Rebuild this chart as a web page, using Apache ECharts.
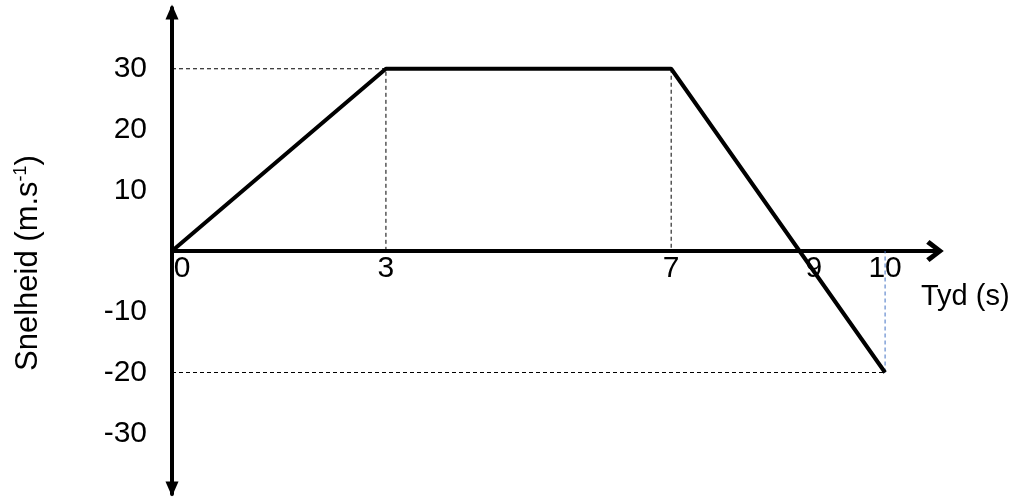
<html lang="af">
<head>
<meta charset="UTF-8">
<title>Snelheid-tyd grafiek</title>
<script src="https://cdn.jsdelivr.net/npm/echarts@6/dist/echarts.min.js"></script>
<style>
html, body { margin: 0; padding: 0; background: #fff; }
</style>
</head>
<body>
<div id="main" style="width:1021px;height:497px;"></div>
<script type="text/javascript">
// data
var timeVals = [0, 3, 7, 10];
var speedVals = [0, 30, 30, -20];
var xTickLabels = [0, 3, 7, 9, 10];
var yTickLabels = [30, 20, 10, -10, -20, -30];

var FONT = 'Liberation Sans, Arial, sans-serif';

var motion = timeVals.map(function (t, i) { return [t, speedVals[i]]; });

// dashed guides from the corner points to the axes
function guide(pts, color) {
    return {
        type: 'line',
        data: pts,
        symbol: 'none',
        silent: true,
        z: 1,
        lineStyle: { color: color, width: 1, type: [4, 3] }
    };
}
var g1 = guide([[0, speedVals[1]], [timeVals[1], speedVals[1]], [timeVals[1], 0]], '#000');
var g2 = guide([[timeVals[2], speedVals[2]], [timeVals[2], 0]], '#000');
var g3 = guide([[0, speedVals[3]], [timeVals[3], speedVals[3]]], '#000');
var g4 = guide([[timeVals[3], speedVals[3]], [timeVals[3], 0]], '#4472c4');

// time tick labels sit just under the zero line
var xLabelSeries = {
    type: 'scatter',
    silent: true,
    symbolSize: 0,
    z: 5,
    itemStyle: { color: '#000', opacity: 1 },
    data: xTickLabels.map(function (v) { return [v, 0]; }),
    label: {
        show: true,
        position: 'bottom',
        distance: 3,
        color: '#000',
        opacity: 1,
        textBorderWidth: 0,
        fontFamily: FONT,
        fontSize: 30,
        formatter: function (p) {
            return p.value[0] === 0 ? '{z|0}' : String(p.value[0]);
        },
        rich: { z: { fontFamily: FONT, fontSize: 30, color: '#000', padding: [0, 0, 0, 20] } }
    }
};

var chart = echarts.init(document.getElementById('main'));
var option = {
    animation: false,
    grid: { left: 172, top: 8, width: 763, height: 486, outerBoundsMode: 'none', containLabel: false },
    xAxis: {
        type: 'value',
        min: 0,
        max: 10.7,
        interval: 1,
        splitLine: { show: false },
        axisTick: { show: false },
        axisLabel: { show: false },
        axisLine: {
            onZero: true,
            symbol: ['none', 'path://M10,0 L20,13 L16.5,16 L10,7 L3.5,16 L0,13 Z'],
            symbolSize: [22, 20],
            lineStyle: { color: '#000', width: 4 }
        }
    },
    yAxis: {
        type: 'value',
        min: -40,
        max: 40,
        interval: 10,
        splitLine: { show: false },
        axisTick: { show: false },
        axisLine: {
            onZero: false,
            symbol: ['triangle', 'triangle'],
            symbolSize: [13, 15],
            symbolOffset: [5, -4],
            lineStyle: { color: '#000', width: 4 }
        },
        axisLabel: {
            margin: 25,
            color: '#000',
            fontFamily: FONT,
            fontSize: 30,
            formatter: function (v) {
                return yTickLabels.indexOf(v) < 0 ? '' : String(v);
            }
        },
        name: '{a|Snelheid (m.s}{s|-1}{a|)}',
        nameLocation: 'middle',
        nameRotate: 90,
        nameGap: 128,
        nameTextStyle: {
            padding: [0, 24, 0, 0],
            rich: {
                a: { fontFamily: FONT, fontSize: 31, color: '#000' },
                s: { fontFamily: FONT, fontSize: 18, color: '#000', verticalAlign: 'top', padding: [0, 0, 14, 0] }
            }
        }
    },
    graphic: [{
        type: 'text',
        left: 921,
        top: 282,
        style: { text: 'Tyd (s)', fontFamily: FONT, fontSize: 29, fill: '#000' }
    }],
    series: [g1, g2, g3, g4, {
        type: 'line',
        data: motion,
        symbol: 'none',
        z: 3,
        lineStyle: { color: '#000', width: 4 }
    }, xLabelSeries]
};
chart.setOption(option);
</script>
</body>
</html>
